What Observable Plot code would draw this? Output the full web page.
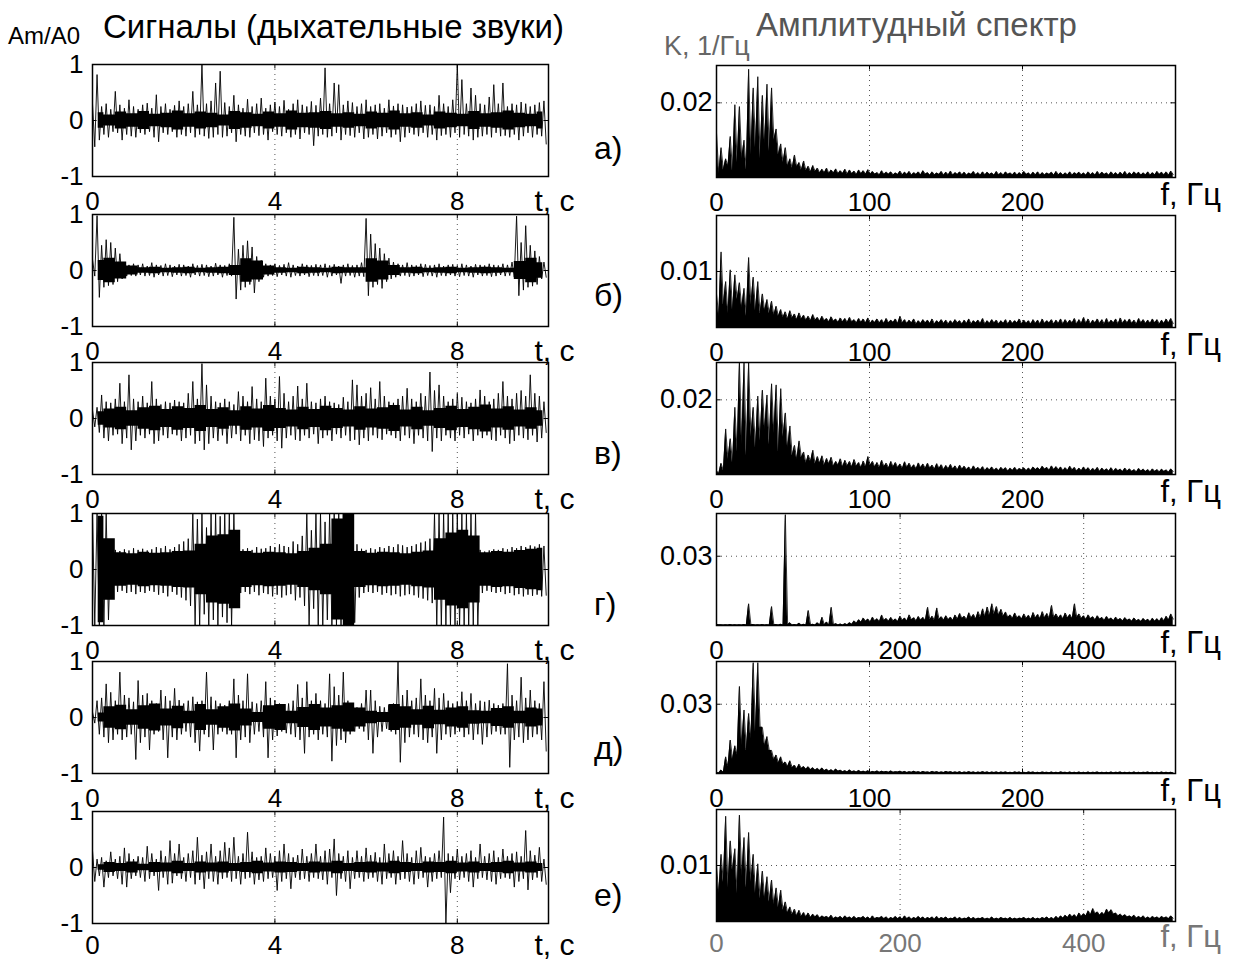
<!DOCTYPE html>
<html><head><meta charset="utf-8">
<script src="https://cdn.jsdelivr.net/npm/d3@7"></script>
<script src="https://cdn.jsdelivr.net/npm/@observablehq/plot@0.6"></script>
<style>
body{margin:0;background:#fff;}
#root{position:relative;width:1245px;height:961px;overflow:hidden;font-family:"Liberation Sans",Arial,sans-serif;background:#fff;}
.lbl{position:absolute;white-space:nowrap;line-height:1;}
</style></head><body><div id="root"></div>
<script>
// ---------- texts ----------
const titleLeft = "Сигналы (дыхательные звуки)";
const titleRight = "Амплитудный спектр";
const unitLeft = "Am/A0";
const unitRight = "K, 1/Гц";
const rowLabels = ["а)", "б)", "в)", "г)", "д)", "е)"];
const tLabel = "t, c";
const fLabel = "f, Гц";

// ---------- signal axes ----------
const sigTicks = [0, 4, 8];
const sigYTicks = [-1, 0, 1];
const sigDt = 0.1;      // s per bin (max/min pairs)
const coreDt = 0.25;    // s per dense-core value

// ---------- signals (hundredths of Am/A0): max and min per 0.1 s bin, dense core half-width per 0.25 s ----------
const sigHi_a = [30,82,25,30,20,52,28,22,37,25, 20,28,31,22,46,25,30,20,27,35, 25,30,52,28,100,30,35,67,88,32, 25,45,28,22,38,25,30,40,22,28, 33,25,36,20,30,37,28,25,34,27, 40,94,30,67,64,28,35,32,25,30, 37,25,28,30,22,37,26,30,28,24, 25,30,35,27,28,25,45,30,25,37, 100,73,30,58,45,30,28,42,64,30, 67,25,30,28,33,30,25,28,32,35];
const sigLo_a = [-47,-35,-25,-30,-20,-22,-35,-25,-28,-30, -22,-25,-20,-30,-38,-22,-25,-20,-30,-25, -28,-22,-30,-25,-28,-32,-30,-25,-30,-28, -22,-38,-25,-28,-30,-22,-27,-25,-35,-20, -25,-28,-22,-30,-25,-33,-22,-25,-45,-28, -25,-30,-28,-22,-35,-25,-27,-30,-22,-33, -30,-25,-33,-28,-22,-30,-25,-38,-30,-22, -25,-28,-22,-30,-25,-35,-27,-25,-30,-22, -30,-25,-28,-35,-30,-28,-25,-30,-22,-28, -27,-30,-25,-35,-28,-22,-30,-25,-28,-42];
const sigCore_a = [14,10,15,12,16,11,13,17,12,15, 13,10,16,14,11,15,12,17,13,14, 16,12,14,11,15,13,17,12,14,10, 15,13,11,16,12,14,17,13,11,15];

const sigHi_b = [20,98,45,55,50,40,30,15,10,12, 10,12,8,14,10,9,12,10,8,11, 10,8,12,9,11,10,8,13,10,9, 12,95,38,45,53,42,25,18,12,10, 12,9,11,14,10,8,12,10,9,11, 10,12,9,11,8,10,12,9,10,14, 93,65,48,40,30,22,15,12,10,14, 10,9,12,11,9,10,12,8,10,11, 9,12,10,8,11,10,9,12,10,9, 12,10,15,97,50,80,45,35,25,15];
const sigLo_b = [-10,-48,-30,-27,-25,-20,-15,-10,-9,-10, -8,-10,-9,-12,-8,-10,-9,-11,-8,-10, -9,-12,-8,-10,-9,-11,-10,-8,-12,-9, -10,-51,-35,-30,-25,-40,-20,-12,-10,-9, -11,-8,-10,-12,-9,-10,-8,-11,-9,-10, -9,-12,-10,-8,-23,-10,-9,-12,-10,-11, -45,-30,-25,-32,-20,-15,-12,-10,-9,-11, -10,-8,-11,-9,-10,-12,-9,-10,-8,-10, -11,-9,-10,-12,-8,-10,-9,-11,-10,-8, -10,-9,-12,-45,-35,-30,-28,-25,-15,-12];
const sigCore_b = [18,22,15,8,5,6,4,5,6,4, 5,6,9,21,17,8,5,4,6,5, 4,6,5,5,21,17,9,5,6,4, 5,6,4,5,6,5,4,16,22,14];

const sigHi_c = [15,20,42,30,28,35,63,30,78,35, 30,40,28,66,35,25,30,28,33,30, 28,45,66,35,98,60,40,30,28,35, 30,25,48,40,30,57,35,30,72,40, 35,75,45,30,40,58,35,63,30,28, 35,40,30,28,25,38,30,69,60,40, 45,55,35,66,40,30,28,35,40,54, 35,30,45,40,83,50,60,40,30,35, 45,38,30,28,35,51,40,30,35,45, 66,40,35,45,50,40,78,45,40,30];
const sigLo_c = [-15,-25,-35,-40,-30,-28,-45,-35,-56,-40, -30,-35,-28,-45,-40,-30,-35,-28,-30,-40, -35,-30,-45,-40,-56,-45,-35,-40,-30,-45, -35,-28,-40,-30,-45,-38,-40,-50,-35,-30, -40,-53,-35,-30,-38,-40,-30,-35,-28,-45, -35,-30,-40,-28,-35,-30,-40,-38,-47,-35, -40,-30,-35,-38,-28,-30,-35,-40,-30,-35, -45,-30,-35,-40,-59,-35,-40,-30,-35,-40, -30,-35,-28,-40,-30,-35,-30,-38,-40,-30, -35,-45,-40,-30,-35,-38,-30,-42,-35,-25];
const sigCore_c = [12,17,20,14,19,22,16,21,18,23, 16,19,14,21,17,23,18,15,20,16, 22,18,15,21,17,19,23,15,20,14, 18,22,16,20,24,17,21,15,19,14];

const sigHi_d = [100,100,100,100,38,35,33,36,34,38, 35,37,34,36,40,38,42,36,40,45, 50,55,100,90,100,75,100,100,95,100, 100,100,40,36,38,35,40,37,38,42, 40,45,42,40,50,45,60,100,70,100, 100,85,100,100,100,100,100,100,45,37, 35,38,36,40,38,42,40,45,43,40, 42,45,48,50,55,100,100,100,100,100, 100,100,100,100,100,35,32,34,36,35, 38,36,40,38,42,40,43,41,45,42];
const sigLo_d = [-100,-100,-100,-90,-45,-40,-38,-42,-40,-44, -40,-42,-38,-40,-45,-42,-48,-40,-45,-50, -55,-65,-100,-100,-80,-100,-90,-100,-85,-95, -100,-60,-42,-40,-44,-40,-46,-42,-44,-48, -45,-50,-46,-44,-55,-50,-65,-100,-70,-100, -100,-90,-100,-100,-100,-100,-100,-95,-50,-42, -40,-42,-40,-45,-42,-46,-44,-48,-46,-44, -46,-50,-52,-55,-60,-100,-100,-100,-100,-100, -100,-100,-100,-100,-100,-42,-38,-40,-42,-40, -44,-42,-46,-44,-48,-45,-47,-45,-48,-46];
const sigCore_d = [95,55,30,28,31,29,30,32,33,45, 60,62,70,32,29,31,30,28,32,38, 45,90,100,32,29,31,30,28,31,33, 55,65,70,60,30,32,31,34,36,38];

const sigHi_e = [10,30,35,60,45,30,81,40,35,28, 66,40,43,30,25,49,38,30,52,31, 25,30,37,28,30,81,37,30,25,22, 30,69,40,30,78,28,25,30,64,35, 31,25,20,25,30,59,35,64,30,43, 30,25,78,55,40,81,30,20,18,25, 49,49,30,20,18,22,25,99,40,49, 30,35,69,40,30,52,35,43,30,25, 28,46,30,43,25,30,28,31,25,22, 25,96,40,30,72,35,49,30,25,64];
const sigLo_e = [-10,-30,-35,-45,-40,-30,-40,-35,-30,-75, -45,-35,-58,-30,-25,-40,-72,-35,-40,-30, -25,-35,-45,-60,-30,-35,-58,-30,-25,-30, -30,-72,-40,-35,-45,-30,-25,-35,-72,-40, -33,-25,-28,-30,-35,-40,-64,-35,-30,-40, -30,-35,-78,-50,-40,-45,-30,-25,-20,-25, -40,-64,-35,-25,-20,-25,-30,-80,-45,-35, -30,-35,-40,-45,-35,-64,-40,-30,-35,-30, -25,-35,-30,-40,-30,-48,-35,-30,-25,-30, -30,-89,-40,-35,-45,-40,-35,-30,-40,-60];
const sigCore_e = [8,19,22,14,21,24,15,20,11,23, 14,19,24,15,9,21,23,11,18,23, 17,21,26,17,11,9,23,19,14,20, 13,17,19,12,11,16,19,11,17,15];

const sigHi_f = [30,15,18,12,28,15,20,35,25,15, 20,18,38,25,15,30,20,48,25,42, 18,25,30,54,22,28,42,20,30,45, 35,54,20,25,63,28,18,20,35,25, 20,30,42,25,18,22,33,20,25,42, 20,30,33,51,25,20,30,18,30,20, 35,22,27,18,42,25,30,20,48,25, 18,30,36,20,18,25,30,90,25,20, 33,20,25,30,18,42,20,25,30,18, 33,20,25,28,20,66,30,22,36,15];
const sigLo_f = [-25,-15,-35,-18,-15,-20,-30,-35,-20,-15, -18,-25,-20,-15,-41,-18,-30,-28,-15,-20, -25,-18,-30,-22,-38,-20,-25,-30,-20,-18, -25,-20,-30,-20,-18,-30,-22,-25,-20,-18, -41,-25,-20,-38,-18,-22,-20,-25,-18,-20, -22,-30,-18,-50,-20,-25,-38,-20,-18,-25, -20,-18,-25,-30,-20,-18,-30,-22,-20,-25, -30,-20,-18,-35,-25,-20,-18,-100,-45,-20, -22,-18,-25,-35,-20,-18,-22,-25,-30,-20, -18,-20,-35,-25,-20,-40,-22,-18,-25,-30];
const sigCore_f = [5,9,7,10,6,9,8,11,7,10, 8,10,7,9,11,8,10,9,7,10, 8,11,7,9,10,8,11,9,7,10, 9,11,8,10,7,9,11,8,10,7];

// ---------- spectra (units of 1e-3 1/Гц): local max and local min per frequency bin ----------
const specFMax = [300, 300, 300, 500, 300, 500];
const specYMax = [0.03, 0.02, 0.03, 0.0485, 0.0485, 0.02];
const specYTick = [0.02, 0.01, 0.02, 0.03, 0.03, 0.01];
const specXTicks = [[0,100,200],[0,100,200],[0,100,200],[0,200,400],[0,100,200],[0,200,400]];
const specStep = [3, 3, 3, 5, 3, 5];      // Hz per bin

const specPeak_a = [12,8,5,11,19.5,19,10,29,24,27, 22,25,24,13,9,8,5,6,4,4.4, 3,3.2,2.5,2.2,2.5,2,2.3,1.8,2.2,2, 1.7,2,1.8,2.1,
 1.6,1.3,1.8,1.4,1.5,1.2,1.7,1.4,1.6,1.3, 1.5,1.8,1.3,1.5,1.2,1.6,1.4,1.7,1.3,1.5, 1.4,1.2,1.6,1.3,1.5,1.4,1.2,1.6,1.3,1.5, 1.2,1.4,1.3,1.6,1.2,1.4,1.5,1.3,1.2,1.4, 1.6,1.3,1.2,1.5,1.3,1.4,1.2,1.5,1.3,1.6, 1.4,1.2,1.5,1.3,1.4,1.6,1.3,1.5,1.4,1.2, 1.5,1.3,1.6,1.4,1.5,1.7];
const specFloor_a = [1,2,3,1.5,4,5,2,6,8,5, 9,7,10,6,4,3,2.5,2.8,2,1.8, 1.5,1.6,1.2,1.3,1.1,1.2,1,1.1,0.9,1, 0.8,1,0.9,0.8,0.9,0.7,0.8,0.9,0.7,0.8,
 0.7,0.8,0.6,0.8,0.7,0.9,0.6,0.7,0.8,0.6, 0.7,0.6,0.8,0.7,0.6,0.8,0.7,0.6,0.7,0.8, 0.6,0.7,0.6,0.8,0.7,0.6,0.7,0.8,0.6,0.7, 0.6,0.7,0.8,0.6,0.7,0.6,0.7,0.6,0.8,0.7, 0.6,0.7,0.6,0.7,0.8,0.6,0.7,0.6,0.7,0.6, 0.7,0.8,0.6,0.7,0.6,0.7,0.8,0.7,0.6,0.8];

const specPeak_b = [6,13.5,8.2,10.3,9.4,8,7,12.5,9,8.2, 6,5,4.7,3.8,3.2,2.8,3.0,2.4,2.6,2.2, 2.0,2.3,
 1.8,2.0,1.6,1.9,1.5,1.7,1.6,1.8,1.4,1.6, 1.5,1.7,1.3,1.5,1.4,1.6,1.3,1.5,2.0,1.4, 1.3,1.5,1.2,1.4,1.3,1.5,1.2,1.4,1.3,1.2, 1.4,1.2,1.3,1.5,1.2,1.3,1.6,1.2,1.4,1.3, 1.2,1.4,1.3,1.2,1.5,1.3,1.2,1.4,1.3,1.5, 1.2,1.4,1.3,1.5,1.4,1.3,1.6,1.4,1.8,1.5, 1.3,1.5,1.4,1.6,1.3,1.5,1.7,1.4,1.5,1.3, 1.6,1.4,1.3,1.5,1.4,1.3,1.5,1.6];
const specFloor_b = [2,4,2.5,3,5,3.5,2,4,3,2.5, 3,2.5,2.2,2,1.8,1.5,1.7,1.4,1.5,1.3, 1.2,1.3,1.1,1.2,1,1.1,0.9,1,0.9,1,
 0.8,0.9,0.8,0.7,0.9,0.8,0.7,0.8,0.9,0.7, 0.8,0.7,0.8,0.6,0.7,0.8,0.7,0.6,0.8,0.7, 0.6,0.7,0.8,0.6,0.7,0.6,0.8,0.7,0.6,0.7, 0.8,0.6,0.7,0.6,0.7,0.8,0.6,0.7,0.6,0.7, 0.6,0.7,0.8,0.6,0.7,0.6,0.7,0.8,0.6,0.7, 0.7,0.6,0.8,0.7,0.6,0.7,0.8,0.6,0.7,0.8, 0.7,0.6,0.8,0.7,0.7,0.8,0.6,0.7,0.8,0.7];

const specPeak_c = [1,3,12.2,9.6,18,30,30,30,18,21, 22.6,21.3,24.3,24,23,16.5,13,7.8,9,6, 5.2,6.5,4.8,5,4.3,4.6,3.5,4.2,3.8,3.5, 4,3.2,3.6,4.8,3.5,
 3.2,3.8,3,3.5,3.2,2.8,3.4,3,2.6,3.1, 2.8,3,2.5,2.9,2.6,2.4,2.7,2.3,2.5,2.2, 2,2.3,1.9,2.1,1.8,2,1.7,1.9,1.8,1.7, 1.9,1.6,1.8,1.7,2,1.8,2.2,1.9,2.3,2.1, 2,1.8,2.2,1.9,1.7,2,1.8,1.6,1.9,1.7, 1.5,1.8,1.6,1.4,1.7,1.5,1.3,1.6,1.4,1.3, 1.5,1.3,1.4,1.2,1.5];
const specFloor_c = [0.3,1,4,3,6,8,5,10,7,9, 12,8,11,6,10,7,5,4,4.5,3, 3.5,2.8,3,2.5,2.8,2.2,2.5,2,2.3,2, 2.2,1.8,2,2.4,2,1.8,2.1,1.7,2,1.8,
 1.6,1.9,1.7,1.5,1.8,1.6,1.7,1.4,1.6,1.3, 1.5,1.4,1.2,1.4,1.3,1.1,1.3,1.2,1,1.2, 1.1,1,1.2,0.9,1.1,1,1.2,1,1.1,1.3, 1.2,1.4,1.1,1.3,1.2,1,1.1,1.2,0.9,1, 1.1,0.9,1,0.8,1,0.9,0.8,1,0.8,0.9, 0.8,0.7,0.9,0.8,0.7,0.8,0.7,0.8,0.6,0.8];

const specPeak_d = [0.5,0.3,0.3,0.4,0.3,0.3,0.4,9.4,0.4,0.3, 0.4,0.3,8.2,0.4,0.5,48,1.2,0.4,1.0,0.5, 6.5,0.5,1.2,3.6,1.5,7.9,0.8,0.6,0.8,1.2, 2.0,2.5,3.2,2.8,3.6,2.9,4.5,3.0,3.5,2.8, 4.0,3.2,4.6,3.4,3.9,3.5,7.9,4.0,7.6,3.8, 4.2,3.6,4.5,5.2,4.0,5.5,4.8,6.0,7.2,8.0, 9.4,8.2,7.0,5.8,4.6,5.4,4.2,5.0,4.4,5.6, 4.8,6.0,5.2,8.7,5.0,4.6,5.4,4.8,9.4,5.0, 4.2,4.6,3.8,4.2,3.5,3.9,3.2,3.6,3.0,3.4, 2.8,3.2,2.6,3.0,2.7,3.1,2.9,3.4,4.0,5.0];
const specFloor_d = [0.3,0.2,0.2,0.2,0.2,0.2,0.2,0.3,0.2,0.2, 0.2,0.2,0.3,0.2,0.2,0.3,0.2,0.2,0.2,0.2, 0.3,0.2,0.2,0.3,0.2,0.3,0.2,0.2,0.3,0.5, 1,1.4,1.8,1.5,2,1.6,2.2,1.8,2,1.7, 2.2,1.9,2.4,2,2.3,2.1,2.5,2.2,2.6,2.3, 2.5,2.2,2.7,3,2.5,3.2,2.8,3.4,3.8,4.2, 4.8,4.4,4,3.5,3,3.2,2.8,3,2.7,3.2, 2.9,3.3,3,3.4,3.1,2.8,3.2,2.9,3.5,3, 2.6,2.9,2.4,2.7,2.2,2.5,2.1,2.3,2,2.2, 1.8,2,1.7,1.9,1.6,1.8,1.7,2,2.4,2.8];

const specPeak_e = [0.5,1.5,7.2,14.5,12,37.7,27.5,26,48,48, 20,16,10,8,7.2,5,5.5,3.6,4,3, 2.9,2.5,2.2,2.4,1.8,1.6,1.9,1.4,1.2,1.5, 1.1,
 1.3,1.0,1.2,0.9,1.1,1.0,0.9,1.1,0.8,1.0, 0.9,0.8,1.0,0.8,0.9,0.7,0.9,0.8,0.7,0.9, 0.8,0.7,0.8,0.6,0.8,0.7,0.6,0.8,0.7,0.6, 0.7,0.6,0.7,0.5,0.7,0.6,0.5,0.7,0.6,0.5, 0.6,0.5,0.6,0.5,0.7,0.5,0.6,0.5,0.6,0.5, 0.6,0.5,0.6,0.5,0.5,0.6,0.5,0.6,0.5,0.5, 0.6,0.5,0.5,0.6,0.5,0.5,0.6,0.5,0.5];
const specFloor_e = [0.2,0.5,3,6,8,12,10,15,18,20, 12,10,6,4.5,4,3,2.5,2,2.2,1.8, 1.6,1.4,1.3,1.2,1.0,0.9,1,0.8,0.7,0.8,
 0.6,0.7,0.6,0.5,0.6,0.5,0.6,0.5,0.5,0.6, 0.5,0.4,0.5,0.5,0.4,0.5,0.4,0.5,0.4,0.4, 0.5,0.4,0.4,0.3,0.4,0.4,0.3,0.4,0.4,0.3, 0.4,0.3,0.4,0.3,0.3,0.4,0.3,0.3,0.4,0.3, 0.3,0.4,0.3,0.3,0.3,0.4,0.3,0.3,0.3,0.3, 0.3,0.3,0.4,0.3,0.3,0.3,0.3,0.4,0.3,0.3, 0.3,0.3,0.3,0.4,0.3,0.3,0.3,0.3,0.3,0.3];

const specPeak_f = [10,12,18.8,14.4,13,19,15,15.9,12,10.3, 9,8,7.4,6,5.6,3.5,2.6,2.2,2,1.6, 1.5,1.3,1.2,
 1.0,0.9,1.1,0.8,0.9,1.0,0.8,0.9,0.7,0.9, 0.8,1.0,0.7,0.9,0.8,0.7,0.9,0.8,1.0,0.8, 0.7,0.9,0.8,0.7,0.8,0.9,0.7,0.8,0.6,0.8, 0.7,0.6,0.8,0.7,0.6,0.7,0.6,0.8,0.6,0.7, 0.6,0.7,0.6,0.6,0.7,0.6,0.7,0.6,0.7,0.8, 0.7,0.9,1.0,
 1.1,1.3,1.2,1.5,1.4,1.9,2.3,1.7,1.6,2.2, 2.1,1.5,1.3,1.2,1.0,1.1,0.9,1.0,0.8,0.9, 0.8,0.9,0.8,1.0];
const specFloor_f = [5,7,6,9,5,8,6,7,5,4, 4,3.5,3,2.5,2,1.5,1.2,1,0.9,0.8, 0.7,0.8,0.6,0.7,0.6,0.5,0.6,0.5,0.6,0.5,
 0.5,0.6,0.5,0.4,0.5,0.6,0.5,0.4,0.5,0.5, 0.4,0.5,0.4,0.5,0.5,0.4,0.5,0.4,0.4,0.5, 0.4,0.5,0.4,0.4,0.5,0.4,0.4,0.5,0.4,0.4, 0.4,0.4,0.5,0.4,0.4,0.4,0.5,0.4,0.4,0.4, 0.4,0.5,0.4,0.4,0.5,0.6,
 0.7,0.8,0.7,0.9,1,1.2,1.4,1.1,1.2,1.5, 1.3,1,0.9,0.8,0.7,0.6,0.6,0.5,0.5,0.6, 0.5,0.6,0.5,0.6];

const sigHi = [sigHi_a, sigHi_b, sigHi_c, sigHi_d, sigHi_e, sigHi_f];
const sigLo = [sigLo_a, sigLo_b, sigLo_c, sigLo_d, sigLo_e, sigLo_f];
const sigCore = [sigCore_a, sigCore_b, sigCore_c, sigCore_d, sigCore_e, sigCore_f];
const specPeak = [specPeak_a, specPeak_b, specPeak_c, specPeak_d, specPeak_e, specPeak_f];
const specFloor = [specFloor_a, specFloor_b, specFloor_c, specFloor_d, specFloor_e, specFloor_f];

// ---------- layout ----------
const FONT = "'Liberation Sans', Arial, sans-serif";
const rowTopL = [64, 214, 362, 513, 661, 811];
const rowTopR = [65, 215, 362, 513, 661, 809];
const frameH = 112, mTop = 20, mBot = 45;
const rowLabelBase = [159, 306, 464, 615, 759, 906];
const root = document.getElementById("root");

function place(el, left, top) {
  el.style.position = "absolute";
  el.style.left = left + "px";
  el.style.top = top + "px";
  root.appendChild(el);
}
function label(text, left, top, size, color) {
  const d = document.createElement("div");
  d.className = "lbl";
  d.textContent = text;
  d.style.fontSize = size + "px";
  d.style.color = color || "#000";
  place(d, left, top);
}
const grid = {stroke: "#555", strokeWidth: 1, strokeDasharray: "1,4"};

function signalPlot(r) {
  const pts = [];
  sigHi[r].forEach((h, i) => {
    pts.push({t: i * sigDt, v: h / 100});
    pts.push({t: i * sigDt + sigDt / 2, v: sigLo[r][i] / 100});
  });
  const band = sigCore[r].map((c, j) => ({t: j * coreDt + coreDt / 2, c: c / 100}));
  const last = r === 5;
  return Plot.plot({
    width: 600, height: mTop + frameH + mBot,
    marginLeft: 92, marginRight: 52, marginTop: mTop, marginBottom: mBot,
    x: {domain: [0, 10]}, y: {domain: [-1, 1]},
    style: {fontFamily: FONT, fontSize: "26px", background: "transparent", overflow: "visible", color: "#000"},
    marks: [
      Plot.ruleX([4, 8], grid),
      Plot.areaY(band, {x: "t", y1: d => -d.c, y2: "c", fill: "#000", curve: "step"}),
      Plot.lineY(pts, {x: "t", y: "v", stroke: "#000", strokeWidth: 0.9, clip: true}),
      Plot.ruleX(sigTicks, {x: d => d, y1: -1, y2: -0.92, stroke: "#000"}),
      Plot.ruleX(sigTicks, {x: d => d, y1: 1, y2: 0.92, stroke: "#000"}),
      Plot.ruleY(sigYTicks, {y: d => d, x1: 0, x2: 0.1, stroke: "#000"}),
      Plot.ruleY(sigYTicks, {y: d => d, x1: 10, x2: 9.9, stroke: "#000"}),
      Plot.frame({stroke: "#000", strokeWidth: 1.5}),
      Plot.axisX({ticks: sigTicks, tickSize: 0, tickPadding: last ? 12 : 15, tickFormat: d => String(d), label: null}),
      Plot.axisY({ticks: sigYTicks, tickSize: 0, tickPadding: 9, tickFormat: d => String(d), label: null}),
      Plot.text([tLabel], {text: d => d, frameAnchor: "bottom-right", dx: -14, dy: last ? 10 : 13, lineAnchor: "top", textAnchor: "start", fontSize: 30})
    ]
  });
}

function spectrumPlot(r) {
  const ymax = specYMax[r], fmax = specFMax[r], st = specStep[r];
  const zig = [];
  specPeak[r].forEach((p, k) => {
    zig.push({f: k * st, v: p / 1000});
    zig.push({f: k * st + st / 2, v: specFloor[r][k] / 1000});
  });
  const tc = r === 5 ? "#777" : "#000";
  const last = r === 5;
  const ticksX = specXTicks[r];
  return Plot.plot({
    width: 625, height: mTop + frameH + mBot,
    marginLeft: 96, marginRight: 70, marginTop: mTop, marginBottom: mBot,
    x: {domain: [0, fmax]}, y: {domain: [0, ymax]},
    style: {fontFamily: FONT, fontSize: "26px", background: "transparent", overflow: "visible", color: "#000"},
    marks: [
      Plot.ruleX(ticksX.filter(d => d > 0), {x: d => d, ...grid}),
      Plot.ruleY([specYTick[r]], {y: d => d, ...grid}),
      Plot.areaY(zig, {x: "f", y: "v", fill: "#000", clip: true}),
      Plot.lineY(zig, {x: "f", y: "v", stroke: "#000", strokeWidth: 0.8, clip: true}),
      Plot.ruleX(ticksX, {x: d => d, y1: 0, y2: ymax * 0.04, stroke: "#000"}),
      Plot.ruleX(ticksX, {x: d => d, y1: ymax, y2: ymax * 0.96, stroke: "#000"}),
      Plot.ruleY([specYTick[r]], {y: d => d, x1: 0, x2: fmax * 0.01, stroke: "#000"}),
      Plot.ruleY([specYTick[r]], {y: d => d, x1: fmax, x2: fmax * 0.99, stroke: "#000"}),
      Plot.frame({stroke: "#000", strokeWidth: 1.5}),
      Plot.axisX({ticks: ticksX, tickSize: 0, tickPadding: last ? 12 : 15, tickFormat: d => String(d), color: tc, label: null}),
      Plot.axisY({ticks: [specYTick[r]], tickSize: 0, tickPadding: 4, tickFormat: d => String(d), label: null, fontSize: 27}),
      Plot.text([fLabel], {text: d => d, frameAnchor: "bottom-right", dx: -15, dy: last ? 3 : 5, lineAnchor: "top", textAnchor: "start", fontSize: 31, fill: tc})
    ]
  });
}

for (let r = 0; r < 6; r++) {
  place(signalPlot(r), 0, rowTopL[r] - mTop);
  place(spectrumPlot(r), 620, rowTopR[r] - mTop);
  label(rowLabels[r], 594, rowLabelBase[r] - Math.round(0.8465 * 32), 32);
}

label(unitLeft, 8, 24, 24);
label(titleLeft, 103, 10, 33);
label(unitRight, 664, 33, 27, "#666");
label(titleRight, 756, 8, 33, "#555");
</script>
</body></html>
